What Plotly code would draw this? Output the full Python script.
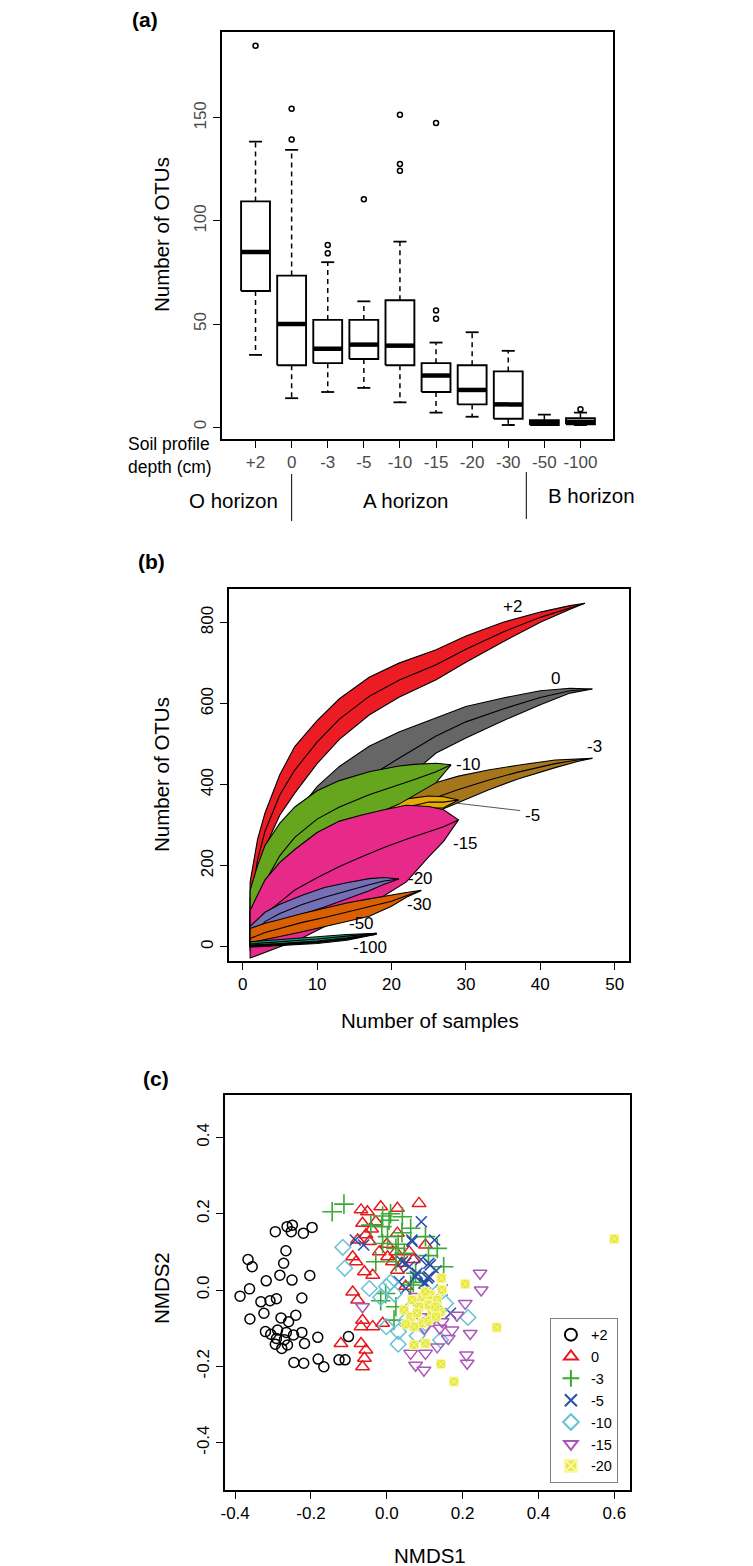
import plotly.graph_objects as go

W, H = 753, 1566
OFF = 8                      # page body margin of the browser
FW, FH = W - OFF, H - OFF
FONT = "Liberation Sans, Arial, Helvetica, sans-serif"


def fx(p):
    return (p - OFF) / FW


def fy(p):
    return 1 - (p - OFF) / FH


# ---------------- Panel (a): boxplots ----------------
depth_labels = ["+2", "0", "-3", "-5", "-10", "-15", "-20", "-30", "-50", "-100"]
whisker_low = [35, 14, 17, 19, 12, 7, 5, 1, 1, 1]
box_q1 = [66, 30, 31, 33, 30, 17, 11, 4, 1, 1.3]
box_median = [85, 50, 38, 40, 39.5, 25, 18, 11, 2, 2.5]
box_q3 = [109.5, 73.5, 52, 52, 61.5, 31, 30, 27, 3.3, 4.3]
whisker_high = [138.5, 134.5, 80, 61, 90, 41, 46, 37, 6, 7]
outliers = [[185], [139.5, 154.5], [84.3, 88.3], [110.5], [124.4, 127.7, 151.5],
            [52.6, 56.5, 147.6], [], [], [], [8.6]]

# ---------------- Panel (b): accumulation curves ----------------
acc_labels = ["+2", "0", "-3", "-5", "-10", "-15", "-20", "-30", "-50", "-100"]
acc_colors = ["#EC1C24", "#666666", "#A6761D", "#E6AB02", "#66A61E",
              "#E7298A", "#7570B3", "#D95F02", "#1B9E77", "#222222"]

acc_x_p2 = [1, 2, 3, 5, 7, 10, 13, 17, 21, 26, 30, 35, 40, 44, 46]
acc_up_p2 = [160, 265, 330, 425, 494, 558, 612, 665, 700, 733, 767, 801, 826, 842, 848]
acc_mean_p2 = [95, 215, 285, 375, 436, 505, 562, 618, 658, 696, 734, 777, 813, 837, 848]
acc_lo_p2 = [50, 180, 245, 325, 379, 452, 512, 572, 616, 659, 702, 753, 801, 833, 848]

acc_x_0 = [1, 2, 3, 5, 7, 10, 13, 17, 21, 26, 30, 35, 40, 44, 47]
acc_up_0 = [120, 185, 230, 285, 325, 395, 445, 495, 530, 565, 593, 614, 632, 638, 636]
acc_mean_0 = [55, 110, 150, 205, 250, 315, 365, 420, 465, 520, 555, 587, 615, 632, 636]
acc_lo_0 = [0, 40, 75, 130, 175, 240, 290, 345, 400, 478, 515, 558, 597, 626, 636]

acc_x_m3 = [1, 3, 5, 7, 10, 13, 17, 21, 25, 29, 33, 37, 42, 45, 47]
acc_up_m3 = [90, 190, 240, 275, 310, 335, 355, 375, 400, 421, 436, 448, 461, 464, 465]
acc_mean_m3 = [40, 130, 180, 218, 255, 285, 312, 338, 362, 388, 411, 431, 452, 461, 465]
acc_lo_m3 = [0, 70, 120, 160, 200, 235, 270, 300, 325, 356, 387, 414, 442, 457, 465]

acc_x_m5 = [1, 5, 10, 15, 20, 22, 25, 27, 29]
acc_up_m5 = [80, 205, 275, 320, 352, 365, 372, 370, 362]
acc_mean_m5 = [40, 158, 228, 283, 326, 344, 357, 357, 362]
acc_lo_m5 = [0, 110, 180, 245, 300, 322, 342, 343, 362]

acc_x_m10 = [1, 2, 3, 5, 7, 10, 13, 17, 21, 23, 26, 28]
acc_up_m10 = [140, 200, 250, 305, 345, 385, 410, 432, 446, 450, 453, 449]
acc_mean_m10 = [40, 110, 160, 225, 270, 315, 345, 375, 400, 412, 432, 449]
acc_lo_m10 = [-10, 40, 80, 150, 200, 255, 290, 320, 352, 372, 405, 449]

acc_x_m15 = [1, 3, 5, 7, 10, 13, 16, 19, 22, 25, 27, 29]
acc_up_m15 = [90, 165, 208, 240, 282, 310, 325, 338, 349, 346, 338, 313]
acc_mean_m15 = [25, 80, 110, 140, 170, 198, 222, 245, 265, 283, 296, 313]
acc_lo_m15 = [-28, -14, 0, 12, 40, 68, 96, 126, 160, 222, 260, 313]

acc_x_m20 = [1, 3, 5, 8, 11, 14, 17, 19, 21]
acc_up_m20 = [50, 85, 105, 127, 146, 158, 168, 171, 167]
acc_mean_m20 = [22, 62, 82, 104, 122, 138, 153, 162, 167]
acc_lo_m20 = [8, 40, 60, 80, 98, 118, 138, 154, 167]

acc_x_m30 = [1, 3, 5, 8, 11, 14, 17, 20, 22, 24]
acc_up_m30 = [45, 58, 67, 82, 95, 108, 118, 128, 134, 139]
acc_mean_m30 = [20, 35, 45, 60, 72, 85, 98, 112, 126, 139]
acc_lo_m30 = [10, 18, 25, 37, 49, 62, 75, 100, 122, 139]

acc_x_m50 = [1, 5, 10, 14, 18]
acc_up_m50 = [12, 18, 25, 30, 33]
acc_mean_m50 = [7, 12, 19, 26, 33]
acc_lo_m50 = [3, 7, 14, 22, 33]

acc_x_m100 = [1, 5, 10, 14, 18]
acc_up_m100 = [4, 7, 13, 21, 31]
acc_mean_m100 = [2, 5, 11, 19, 31]
acc_lo_m100 = [-1, 2, 8, 16, 31]

acc_label_x = [36.2, 42.0, 47.3, 39.0, 30.4, 30.0, 23.9, 23.8, 16.0, 17.05]
acc_label_y = [840, 663, 494, 325, 449, 255, 169, 103, 58, -1.5]

# ---------------- Panel (c): NMDS ----------------
nmds_labels = ["+2", "0", "-3", "-5", "-10", "-15", "-20"]
nmds_colors = ["#000000", "#E8191E", "#3AAA35", "#2850A8", "#66C2D4", "#AA55B8", "#E8E83C"]
nmds_symbols = ["circle-open", "triangle-up-open", "cross-thin", "x-thin",
                "diamond-open", "triangle-down-open", "square-x"]

nmds1_p2 = [-0.294, -0.263, -0.249, -0.252, -0.220, -0.197, -0.266, -0.366, -0.355, -0.272,
            -0.282, -0.250, -0.203, -0.318, -0.362, -0.387, -0.332, -0.308, -0.291, -0.224,
            -0.324, -0.361, -0.279, -0.259, -0.240, -0.320, -0.306, -0.288, -0.265, -0.246,
            -0.224, -0.294, -0.277, -0.262, -0.217, -0.245, -0.219, -0.181, -0.166, -0.182,
            -0.126, -0.110, -0.101, -0.291, -0.270]
nmds2_p2 = [0.153, 0.166, 0.170, 0.153, 0.149, 0.164, 0.103, 0.080, 0.061, 0.070,
            0.039, 0.026, 0.038, 0.024, 0.003, -0.016, -0.031, -0.028, -0.023, -0.021,
            -0.061, -0.076, -0.073, -0.083, -0.066, -0.109, -0.116, -0.105, -0.111, -0.118,
            -0.111, -0.142, -0.153, -0.144, -0.140, -0.190, -0.192, -0.181, -0.201, -0.124,
            -0.183, -0.183, -0.122, -0.127, -0.130]

nmds1_0 = [-0.068, -0.051, -0.016, 0.028, 0.085, -0.064, -0.029, 0.028, -0.077, -0.046,
           -0.090, -0.081, -0.059, -0.037, 0.002, 0.024, 0.015, 0.059, 0.102, 0.028,
           -0.077, -0.064, -0.037, -0.068, -0.011, -0.121, -0.068, -0.055, -0.059, -0.064,
           -0.055, -0.040, 0.000, 0.040, 0.050, 0.070, -0.090, -0.020]
nmds2_0 = [0.210, 0.205, 0.218, 0.214, 0.227, 0.175, 0.179, 0.149, 0.131, 0.127,
           0.087, 0.074, 0.048, 0.039, 0.087, 0.100, 0.074, 0.100, 0.118, 0.052,
           -0.026, -0.079, -0.096, -0.096, -0.087, -0.140, -0.140, -0.157, -0.179, -0.201,
           0.145, 0.160, 0.120, 0.070, 0.010, 0.080, -0.005, 0.100]

nmds1_m3 = [-0.144, -0.113, -0.011, -0.042, -0.013, 0.006, 0.041, 0.063, 0.002, -0.011,
            0.024, 0.046, 0.102, 0.133, -0.029, 0.024, 0.076, 0.150, -0.003, -0.016,
            0.024, 0.019, 0.063, 0.040, 0.010, 0.030, 0.070, 0.110]
nmds2_m3 = [0.205, 0.225, 0.194, 0.170, 0.166, 0.183, 0.192, 0.162, 0.140, 0.122,
            0.109, 0.096, 0.140, 0.109, 0.074, 0.074, 0.044, 0.061, -0.009, -0.028,
            -0.044, -0.079, 0.013, 0.150, 0.200, 0.120, 0.020, 0.090]

nmds1_m5 = [-0.083, -0.061, 0.091, 0.066, 0.126, 0.041, 0.059, 0.076, 0.115, 0.111,
            0.146, 0.032, 0.098, 0.067, 0.111, 0.107, 0.050, 0.080, 0.168, 0.050,
            0.102, 0.090, 0.130]
nmds2_m5 = [0.131, 0.118, 0.179, 0.131, 0.131, 0.074, 0.061, 0.035, 0.066, 0.035,
            0.000, 0.022, 0.018, 0.127, 0.070, 0.031, 0.070, 0.044, -0.061, 0.004,
            0.018, 0.080, 0.050]

nmds1_m10 = [-0.116, -0.111, -0.046, -0.001, -0.016, -0.001, 0.031, 0.030, 0.102, 0.155,
             0.214, 0.142, 0.120, 0.020, 0.060, 0.080, 0.050, 0.130, 0.010]
nmds2_m10 = [0.112, 0.057, 0.004, 0.009, -0.019, -0.096, -0.109, -0.142, -0.087, -0.035,
             -0.072, -0.131, -0.044, -0.010, -0.050, -0.120, -0.080, -0.010, 0.020]

nmds1_m15 = [0.246, 0.249, 0.207, 0.076, -0.064, 0.220, 0.172, 0.162, 0.210, 0.212,
             0.063, 0.076, 0.098, 0.102, 0.133, 0.146, 0.185, 0.089, 0.120, 0.100, 0.140]
nmds2_m15 = [0.044, 0.000, -0.035, -0.017, -0.044, -0.114, -0.105, -0.127, -0.170, -0.192,
             -0.166, -0.197, -0.210, -0.166, -0.149, -0.083, -0.066, -0.070, -0.079, -0.100, -0.100]

nmds1_m20 = [0.600, 0.144, 0.207, 0.290, 0.143, 0.177, 0.072, 0.102, 0.046, 0.067,
             0.094, 0.115, 0.133, 0.142, 0.120, 0.085, 0.063, 0.094, 0.072, 0.111,
             0.128, 0.146, 0.102, 0.050, 0.080, 0.110, 0.130]
nmds2_m20 = [0.134, 0.031, 0.016, -0.098, -0.194, -0.240, -0.144, -0.140, -0.052, -0.026,
             -0.018, -0.013, -0.026, -0.057, -0.061, -0.044, -0.070, -0.087, -0.096, -0.039,
             -0.044, 0.000, -0.004, -0.090, -0.060, -0.080, -0.070]

# ---------------- Figure ----------------
fig = go.Figure()

# Panel (a)
pos = list(range(1, len(depth_labels) + 1))
half_box, half_cap = 0.4, 0.18

wx, wy = [], []
for p, lo, q1, q3, hi in zip(pos, whisker_low, box_q1, box_q3, whisker_high):
    wx += [p, p, None, p, p, None]
    wy += [q3, hi, None, q1, lo, None]
fig.add_trace(go.Scatter(x=wx, y=wy, mode="lines", line=dict(color="black", width=1.5, dash="5px,4px"),
                         xaxis="x", yaxis="y", showlegend=False, hoverinfo="skip"))
cx, cy = [], []
for p, lo, hi in zip(pos, whisker_low, whisker_high):
    cx += [p - half_cap, p + half_cap, None, p - half_cap, p + half_cap, None]
    cy += [hi, hi, None, lo, lo, None]
fig.add_trace(go.Scatter(x=cx, y=cy, mode="lines", line=dict(color="black", width=1.8),
                         xaxis="x", yaxis="y", showlegend=False, hoverinfo="skip"))
for p, q1, q3 in zip(pos, box_q1, box_q3):
    fig.add_trace(go.Scatter(x=[p - half_box, p + half_box, p + half_box, p - half_box, p - half_box],
                             y=[q1, q1, q3, q3, q1], mode="lines", fill="toself", fillcolor="white",
                             line=dict(color="black", width=1.9), xaxis="x", yaxis="y",
                             showlegend=False, hoverinfo="skip"))
mx, my = [], []
for p, m in zip(pos, box_median):
    mx += [p - half_box, p + half_box, None]
    my += [m, m, None]
fig.add_trace(go.Scatter(x=mx, y=my, mode="lines", line=dict(color="black", width=4.5),
                         xaxis="x", yaxis="y", showlegend=False, hoverinfo="skip"))
ox, oy = [], []
for p, outs in zip(pos, outliers):
    for v in outs:
        ox.append(p)
        oy.append(v)
fig.add_trace(go.Scatter(x=ox, y=oy, mode="markers",
                         marker=dict(symbol="circle-open", size=5, color="black", line=dict(width=1.5, color="black")),
                         xaxis="x", yaxis="y", showlegend=False, hoverinfo="skip"))

# Panel (b)
acc_series = [
    (acc_x_p2, acc_up_p2, acc_mean_p2, acc_lo_p2),
    (acc_x_0, acc_up_0, acc_mean_0, acc_lo_0),
    (acc_x_m3, acc_up_m3, acc_mean_m3, acc_lo_m3),
    (acc_x_m5, acc_up_m5, acc_mean_m5, acc_lo_m5),
    (acc_x_m10, acc_up_m10, acc_mean_m10, acc_lo_m10),
    (acc_x_m15, acc_up_m15, acc_mean_m15, acc_lo_m15),
    (acc_x_m20, acc_up_m20, acc_mean_m20, acc_lo_m20),
    (acc_x_m30, acc_up_m30, acc_mean_m30, acc_lo_m30),
    (acc_x_m50, acc_up_m50, acc_mean_m50, acc_lo_m50),
    (acc_x_m100, acc_up_m100, acc_mean_m100, acc_lo_m100),
]
for (xs, up, mean, lo), col in zip(acc_series, acc_colors):
    px_ = list(xs) + list(xs)[::-1] + [xs[0]]
    py_ = list(up) + list(lo)[::-1] + [up[0]]
    fig.add_trace(go.Scatter(x=px_, y=py_, mode="lines", fill="toself", fillcolor=col,
                             line=dict(color="black", width=1.1), xaxis="x2", yaxis="y2",
                             showlegend=False, hoverinfo="skip"))
    fig.add_trace(go.Scatter(x=xs, y=mean, mode="lines", line=dict(color="black", width=1.1),
                             xaxis="x2", yaxis="y2", showlegend=False, hoverinfo="skip"))

# Panel (c)
nmds_series = [(nmds1_p2, nmds2_p2), (nmds1_0, nmds2_0), (nmds1_m3, nmds2_m3), (nmds1_m5, nmds2_m5),
               (nmds1_m10, nmds2_m10), (nmds1_m15, nmds2_m15), (nmds1_m20, nmds2_m20)]
nmds_sizes = [10, 12, 14, 11, 12, 12, 9]
nmds_line_colors = ["#000000", "#E8191E", "#3AAA35", "#2850A8", "#66C2D4", "#AA55B8", "#F8F8A8"]
nmds_line_widths = [1.5, 1.5, 1.6, 1.6, 1.5, 1.5, 1.0]
for (xs, ys), lab, col, sym, sz, lc, lw in zip(nmds_series, nmds_labels, nmds_colors, nmds_symbols,
                                              nmds_sizes, nmds_line_colors, nmds_line_widths):
    fig.add_trace(go.Scatter(x=xs, y=ys, mode="markers", name=lab,
                             marker=dict(symbol=sym, size=sz, color=col, line=dict(color=lc, width=lw)),
                             xaxis="x3", yaxis="y3", showlegend=True, hoverinfo="skip"))

# ---------------- Axes ----------------
TICK = 17


def ax(**kw):
    base = dict(showline=True, linecolor="black", linewidth=2, mirror=True, ticks="outside",
                ticklen=7, tickwidth=1.3, tickcolor="black", showgrid=False, zeroline=False,
                tickfont=dict(family=FONT, size=TICK, color="black"))
    base.update(kw)
    return base


gray_tick = dict(family=FONT, size=TICK, color="#4A4A4A")

fig.update_layout(
    width=FW, height=FH, margin=dict(l=0, r=0, t=0, b=0),
    paper_bgcolor="white", plot_bgcolor="white",
    font=dict(family=FONT, size=16, color="black"),
    xaxis=ax(domain=[fx(218), fx(612)], anchor="y", range=[0.06, 10.9],
             tickvals=pos, ticktext=depth_labels, tickfont=gray_tick),
    yaxis=ax(domain=[fy(439), fy(32)], anchor="x", range=[-5.8, 191.7],
             tickvals=[0, 50, 100, 150], ticktext=["0", "50", "100", "150"], tickangle=-90, tickfont=gray_tick),
    xaxis2=ax(domain=[fx(225), fx(628)], anchor="y2", range=[-1.9, 51.9],
              tickvals=[0, 10, 20, 30, 40, 50], ticktext=["0", "10", "20", "30", "40", "50"]),
    yaxis2=ax(domain=[fy(961), fy(589)], anchor="x2", range=[-35.3, 883],
              tickvals=[0, 200, 400, 600, 800], ticktext=["0", "200", "400", "600", "800"], tickangle=-90),
    xaxis3=ax(domain=[fx(221.7), fx(629)], anchor="y3", range=[-0.426, 0.641],
              tickvals=[-0.4, -0.2, 0, 0.2, 0.4, 0.6], ticktext=["-0.4", "-0.2", "0.0", "0.2", "0.4", "0.6"]),
    yaxis3=ax(domain=[fy(1490), fy(1095)], anchor="x3", range=[-0.524, 0.511],
              tickvals=[-0.4, -0.2, 0, 0.2, 0.4], ticktext=["-0.4", "-0.2", "0.0", "0.2", "0.4"], tickangle=-90),
    legend=dict(x=fx(617), y=fy(1317.7), xanchor="right", yanchor="top",
                bordercolor="#808080", borderwidth=1, bgcolor="white",
                font=dict(family=FONT, size=14.5, color="black"), itemwidth=30, tracegroupgap=0,
                itemsizing="constant"),
    showlegend=True,
)

ann = []


def text_ann(x, y, t, size=16, bold=False, angle=0, xanchor="center", xref="paper", yref="paper",
             align="center", color="black"):
    ann.append(dict(x=x, y=y, xref=xref, yref=yref, text=("<b>%s</b>" % t) if bold else t, showarrow=False,
                    font=dict(family=FONT, size=size, color=color), textangle=angle,
                    xanchor=xanchor, yanchor="middle", align=align))


# panel letters
text_ann(fx(141), fy(19), "(a)", size=21, bold=True)
text_ann(fx(147), fy(561), "(b)", size=21, bold=True)
text_ann(fx(152), fy(1078), "(c)", size=21, bold=True)
# axis titles
text_ann(fx(157), fy(235), "Number of OTUs", size=20.5, angle=-90)
text_ann(fx(157), fy(775), "Number of OTUs", size=20.5, angle=-90)
text_ann(fx(428), fy(1020), "Number of samples", size=20.5)
text_ann(fx(157), fy(1288), "NMDS2", size=20.5, angle=-90)
text_ann(fx(428), fy(1555), "NMDS1", size=20.5)
# panel (a) extras
text_ann(fx(122), fy(456), "Soil profile<br>depth (cm)", size=17.5, xanchor="left", align="left")
text_ann(fx(230), fy(500), "O horizon", size=20.5)
text_ann(fx(403), fy(500), "A horizon", size=20.5)
text_ann(fx(590), fy(496), "B horizon", size=20.5)
# panel (b) curve labels
for lx, ly, lab in zip(acc_label_x, acc_label_y, acc_labels):
    text_ann(lx, ly, lab, size=17, xref="x2", yref="y2")

fig.update_layout(annotations=ann)

shapes = [
    dict(type="line", xref="x", yref="paper", x0=2, x1=2, y0=fy(521), y1=fy(474),
         line=dict(color="black", width=1)),
    dict(type="line", xref="x", yref="paper", x0=8.5, x1=8.5, y0=fy(519), y1=fy(472),
         line=dict(color="black", width=1)),
    dict(type="line", xref="x2", yref="y2", x0=28.9, y0=354, x1=37.3, y1=336,
         line=dict(color="#555555", width=1)),
]
fig.update_layout(shapes=shapes)

fig.write_html("out.html")
